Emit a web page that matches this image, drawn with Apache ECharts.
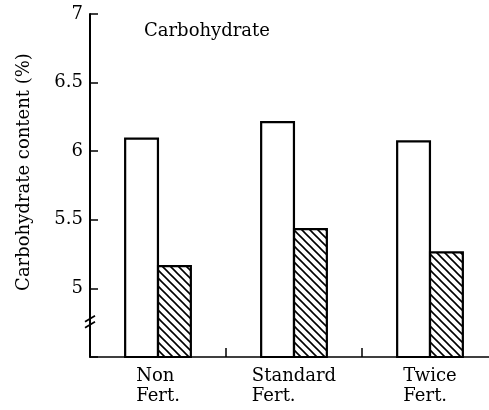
<!DOCTYPE html>
<html>
<head>
<meta charset="utf-8">
<script src="https://cdn.jsdelivr.net/npm/echarts@6/dist/echarts.min.js"></script>
<style>
  html, body { margin: 0; padding: 0; background: #fff; }
  #chart { width: 489px; height: 410px; }
</style>
</head>
<body>
<div id="chart"></div>
<script>
const categories = ['Non\nFert.', 'Standard\nFert.', 'Twice\nFert.']
const whiteValues = [6.1, 6.22, 6.08]
const hatchedValues = [5.17, 5.44, 5.27]
const yTicks = [5, 5.5, 6, 6.5, 7]

const FONT = 'DejaVu Serif'

// diagonal hatch tile for the second series
function makeHatch() {
  const size = 8
  const c = document.createElement('canvas')
  c.width = size
  c.height = size
  const ctx = c.getContext('2d')
  ctx.fillStyle = '#fff'
  ctx.fillRect(0, 0, size, size)
  ctx.strokeStyle = '#000'
  ctx.lineWidth = 1.6
  ctx.beginPath()
  ctx.moveTo(-2, -2)
  ctx.lineTo(size + 2, size + 2)
  ctx.moveTo(-2, size - 2)
  ctx.lineTo(2, size + 2)
  ctx.moveTo(size - 2, -2)
  ctx.lineTo(size + 2, 2)
  ctx.stroke()
  return c
}

const chart = echarts.init(document.getElementById('chart'), null, { renderer: 'canvas' })

const option = {
  animation: false,
  backgroundColor: '#fff',
  title: {
    text: 'Carbohydrate',
    left: 144,
    top: 22,
    padding: 0,
    textStyle: { fontFamily: FONT, fontSize: 18, fontWeight: 'normal', color: '#000' },
  },
  grid: { left: 90, top: 14, width: 408, height: 343, outerBoundsMode: 'none' },
  xAxis: {
    type: 'category',
    data: categories,
    axisLine: { lineStyle: { color: '#000', width: 1.5 } },
    axisTick: { show: true, inside: true, length: 9, lineStyle: { color: '#000', width: 1.5 } },
    axisLabel: {
      margin: 9,
      formatter: (v) => {
        const parts = v.split('\n')
        return parts.map((p) => '{a|' + p + '}').join('\n')
      },
      rich: {
        a: { fontFamily: FONT, fontSize: 18, color: '#000', align: 'left', lineHeight: 20 },
      },
    },
  },
  yAxis: {
    type: 'value',
    min: 4.5,
    max: 7,
    interval: 0.5,
    name: 'Carbohydrate content (%)',
    nameLocation: 'middle',
    nameGap: 57,
    nameTextStyle: { fontFamily: FONT, fontSize: 18, color: '#000', padding: [0, 0, 0, 27] },
    splitLine: { show: false },
    axisLine: { show: true, lineStyle: { color: '#000', width: 2 } },
    axisTick: {
      show: true,
      inside: true,
      length: 8,
      lineStyle: { color: '#000', width: 1.5 },
    },
    axisLabel: {
      margin: 7,
      fontFamily: FONT,
      fontSize: 18,
      color: '#000',
      formatter: (v) => (yTicks.includes(v) ? String(v) : ''),
    },
  },
  series: [
    {
      type: 'bar',
      data: whiteValues,
      barWidth: 35,
      barGap: '-6%',
      itemStyle: { color: '#fff', borderColor: '#000', borderWidth: 2.2 },
    },
    {
      type: 'bar',
      data: hatchedValues,
      barWidth: 35,
      itemStyle: {
        color: { image: makeHatch(), repeat: 'repeat' },
        borderColor: '#000',
        borderWidth: 2.2,
      },
    },
  ],
}

chart.setOption(option)

// axis break mark "//" on the y axis
const bp = chart.convertToPixel({ gridIndex: 0 }, [0, 4.75])
const bx = 90
const by = bp[1]
chart.setOption({
  graphic: [
    { type: 'line', shape: { x1: bx - 5, y1: by - 1, x2: bx + 5, y2: by - 7 }, style: { stroke: '#000', lineWidth: 1.8 } },
    { type: 'line', shape: { x1: bx - 5, y1: by + 5, x2: bx + 5, y2: by - 1 }, style: { stroke: '#000', lineWidth: 1.8 } },
  ],
})
</script>
</body>
</html>
